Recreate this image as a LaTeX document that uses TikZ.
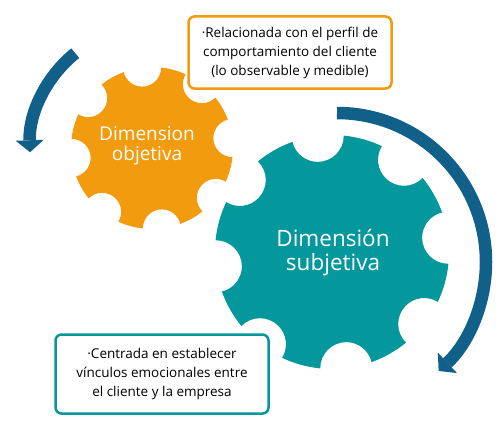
\documentclass[tikz,border=0pt]{standalone}
\usepackage{fontspec}
\setmainfont{Open Sans}
\usepackage{tikz}
\usetikzlibrary{arrows.meta,calc}
\definecolor{orange}{HTML}{F29B0E}
\definecolor{teal}{HTML}{04979B}
\definecolor{darkblue}{HTML}{10608A}

% gear: centre, outer radius, notch radius (no units), colour
\newcommand{\gearpath}[4]{%
 \pgfmathsetmacro\gh{asin(#3/(2*#2))}%
 \pgfmathsetmacro\gd{2*\gh}%
 \fill[#4] ($(#1)+(7-\gd:#2pt)$)
 \foreach \a in {7,52,...,322}{
   arc[start angle=\a-90-\gh,end angle=\a-270+\gh,radius=#3pt]
   arc[start angle=\a+\gd,end angle=\a+45-\gd,radius=#2pt]
 } -- cycle;}

\begin{document}
\begin{tikzpicture}[
 x=1pt,y=1pt,
 ob/.style={draw=orange,fill=white,line width=2.5pt,rounded corners=6pt,minimum width=203pt,minimum height=72pt,align=center,font=\fontsize{13.5}{19}\selectfont},
 tb/.style={draw=teal,fill=white,line width=2.5pt,rounded corners=6pt,minimum width=213pt,minimum height=79pt,align=center,font=\fontsize{13.5}{19}\selectfont},
 gt/.style={text=white,align=center},
 arr/.style={draw=darkblue,line width=12.5pt,-{Triangle[length=12pt,width=28pt,line width=0pt]}}
]
\useasboundingbox (0,0) rectangle (500,424);
\coordinate (og) at (152,276);
\coordinate (tg) at (332,172);
\coordinate (rc) at (337,162);

\gearpath{og}{81}{19}{orange}
\node[gt,font=\fontsize{19}{20}\selectfont] (ol) at (147,278) {Dimension\\objetiva};
\node[ob] (b1) at (290,371.5) {·Relacionada con el perfil de\\comportamiento del cliente\\(lo observable y medible)};

\gearpath{tg}{117}{26}{teal}
\node[gt,font=\fontsize{22.5}{24}\selectfont] (tl) at (333,171) {Dimensión\\subjetiva};
\node[tb] (b2) at (162,50) {·Centrada en establecer\\vínculos emocionales entre\\el cliente y la empresa};

\draw[arr] ($(og)+(129:122pt)$) arc[start angle=129,end angle=182,radius=122pt];
\draw[arr] ($(rc)+(90:149pt)$) arc[start angle=90,end angle=-47,radius=149pt];
\end{tikzpicture}
\end{document}
